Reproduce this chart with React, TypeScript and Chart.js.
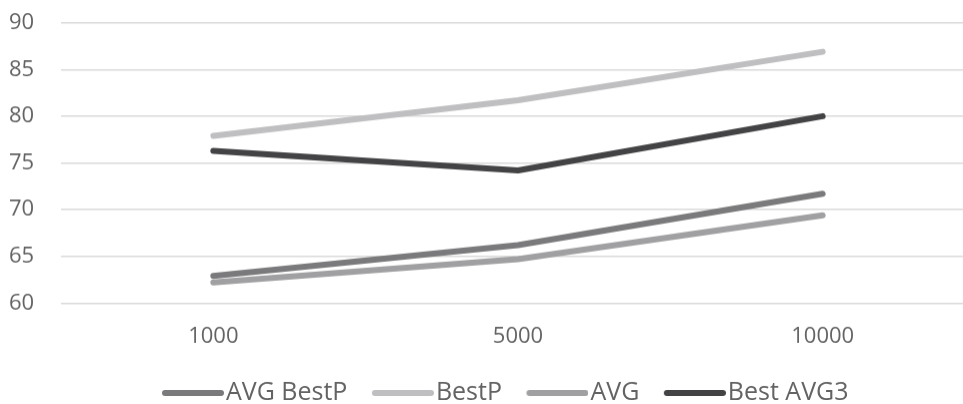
import { useEffect, useRef } from "react";
import { Chart, registerables } from "chart.js";

Chart.register(...registerables);

// Sample sizes along the x axis
const categories = ["1000", "5000", "10000"];

// Scores per series
const avgBestP = [62.9, 66.2, 71.7];
const bestP = [77.9, 81.7, 86.9];
const avg = [62.2, 64.7, 69.4];
const bestAvg3 = [76.3, 74.2, 80.0];

// Value axis range
const yMin = 60;
const yMax = 90;
const yStep = 5;

const FONT = "'Open Sans', sans-serif";
const TEXT = "#636363";
const LEGEND_BOX = 52;

// Centres the legend row between the value labels and the right edge of the plot
const legendSpan = {
  id: "legendSpan",
  afterLayout(chart: any) {
    const legend = chart.legend;
    if (!legend) return;
    legend.left = 35;
    legend.right = chart.chartArea.right;
    legend.width = legend.right - legend.left;
  },
};

// Legend swatch: a thick round-capped stroke that runs right up to the label text
function makeSwatch(color: string): HTMLCanvasElement {
  const c = document.createElement("canvas");
  c.width = LEGEND_BOX + 21;
  c.height = 10;
  const ctx = c.getContext("2d");
  if (ctx) {
    ctx.strokeStyle = color;
    ctx.lineWidth = 6;
    ctx.lineCap = "round";
    ctx.beginPath();
    ctx.moveTo(14, 5);
    ctx.lineTo(c.width - 3, 5);
    ctx.stroke();
  }
  return c;
}

export default function App() {
  const canvasRef = useRef<HTMLCanvasElement | null>(null);

  useEffect(() => {
    const canvas = canvasRef.current;
    if (!canvas) return;

    const line = (label: string, data: number[], color: string) => ({
      label,
      data,
      borderColor: color,
      backgroundColor: color,
      borderWidth: 6,
      borderCapStyle: "round" as const,
      borderJoinStyle: "round" as const,
      pointStyle: makeSwatch(color),
      pointRadius: 0,
      pointHoverRadius: 0,
      tension: 0,
      fill: false,
    });

    const chart = new Chart(canvas, {
      type: "line",
      data: {
        labels: categories,
        datasets: [
          line("AVG BestP", avgBestP, "#7a7a7c"),
          line("BestP", bestP, "#bfbfc1"),
          line("AVG", avg, "#a0a0a2"),
          line("Best AVG3", bestAvg3, "#434345"),
        ],
      },
      plugins: [legendSpan],
      options: {
        animation: false,
        responsive: true,
        maintainAspectRatio: false,
        layout: { padding: { left: 9, right: 35, top: 22.7, bottom: 0 } },
        plugins: {
          tooltip: { enabled: false },
          legend: {
            position: "bottom",
            labels: {
              usePointStyle: true,
              pointStyleWidth: LEGEND_BOX,
              padding: 24,
              color: TEXT,
              font: { family: FONT, size: 25 },
            },
          },
        },
        scales: {
          x: {
            offset: true,
            grid: { display: false, drawTicks: false },
            border: { display: false },
            ticks: {
              padding: 20,
              color: TEXT,
              font: { family: FONT, size: 22 },
            },
            afterFit: (scale: any) => {
              scale.height = 53.2;
            },
          },
          y: {
            min: yMin,
            max: yMax,
            grid: { color: "#dadada", lineWidth: 1.6, drawTicks: false },
            border: { display: false },
            ticks: {
              stepSize: yStep,
              padding: 0,
              crossAlign: "far",
              color: TEXT,
              font: { family: FONT, size: 22 },
            },
            afterFit: (scale: any) => {
              scale.width = 52;
            },
          },
        },
      },
    });

    return () => chart.destroy();
  }, []);

  return (
    <div
      style={{
        position: "absolute",
        left: 0,
        top: 0,
        width: 963,
        height: 404,
        overflow: "hidden",
        background: "#ffffff",
      }}
    >
      <div style={{ position: "relative", width: 1010, height: 414.5 }}>
        <canvas ref={canvasRef} />
      </div>
    </div>
  );
}
